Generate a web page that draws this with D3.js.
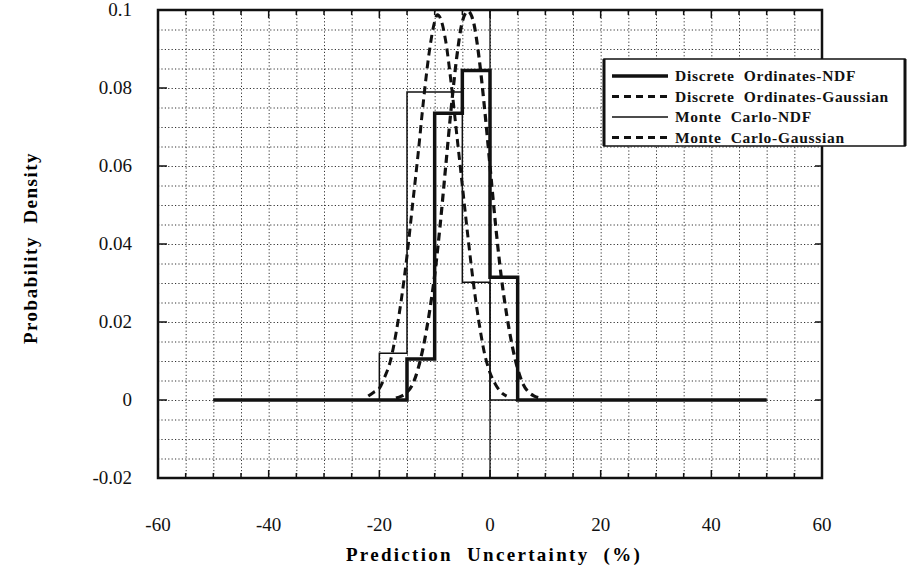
<!DOCTYPE html>
<html>
<head>
<meta charset="utf-8">
<script src="https://cdn.jsdelivr.net/npm/d3@7"></script>
<style>
    body { margin: 0; background: #ffffff; }
    svg { display: block; }
    .grid line { stroke: #333333; stroke-width: 1; stroke-dasharray: 1.2, 2.2; }
    .grid path { display: none; }
</style>
</head>
<body>
<div id="chart"></div>
<script>
// tick labels
const xTicks = [-60, -40, -20, 0, 20, 40, 60]
const yTicks = [-0.02, 0, 0.02, 0.04, 0.06, 0.08, 0.1]
const yTickLabels = ["-0.02", "0", "0.02", "0.04", "0.06", "0.08", "0.1"]

// Discrete Ordinates - NDF histogram (bin edges, bin heights)
const doNdfEdges = [-50, -15, -10, -5, 0, 5, 50]
const doNdfValues = [0, 0.0105, 0.0735, 0.0845, 0.0315, 0]

// Monte Carlo - NDF histogram
const mcNdfEdges = [-50, -20, -15, -10, -5, 0, 50]
const mcNdfValues = [0, 0.012, 0.079, 0.079, 0.0302, 0]

// Discrete Ordinates - Gaussian curve
const doGaussX = [-17, -16, -15, -14, -13, -12, -11, -10, -9, -8, -7, -6, -5, -4, -3, -2, -1, 0, 1, 2, 3, 4, 5, 6, 7, 8, 9]
const doGaussY = [0.0005, 0.001, 0.002, 0.004, 0.008, 0.014, 0.022, 0.032, 0.045, 0.060, 0.075, 0.088, 0.097, 0.0997, 0.097, 0.088, 0.075, 0.060, 0.045, 0.032, 0.022, 0.014, 0.008, 0.004, 0.002, 0.001, 0.0005]

// Monte Carlo - Gaussian curve
const mcGaussX = [-22, -21, -20, -19, -18, -17, -16, -15, -14, -13, -12, -11, -10, -9.5, -9, -8, -7, -6, -5, -4, -3, -2, -1, 0, 1, 2, 3]
const mcGaussY = [0.001, 0.002, 0.003, 0.006, 0.010, 0.017, 0.026, 0.037, 0.050, 0.063, 0.077, 0.089, 0.097, 0.0988, 0.098, 0.092, 0.081, 0.068, 0.055, 0.042, 0.030, 0.020, 0.012, 0.007, 0.004, 0.002, 0.001]

const legendLabels = ["Discrete  Ordinates-NDF", "Discrete  Ordinates-Gaussian", "Monte  Carlo-NDF", "Monte  Carlo-Gaussian"]

const width = 908
const height = 572
const margin = { left: 158, top: 10, right: 86, bottom: 94 }
const innerWidth = width - margin.left - margin.right
const innerHeight = height - margin.top - margin.bottom

const svg = d3.select("#chart").append("svg")
    .attr("width", width)
    .attr("height", height)

const g = svg.append("g")
    .attr("transform", `translate(${margin.left},${margin.top})`)

const xScale = d3.scaleLinear().domain([-60, 60]).range([0, innerWidth])
const yScale = d3.scaleLinear().domain([-0.02, 0.1]).range([innerHeight, 0])

// dotted grid
g.append("g")
    .attr("class", "grid")
    .attr("transform", `translate(0,${innerHeight})`)
    .call(d3.axisBottom(xScale).tickValues(d3.range(-55, 60, 5)).tickSize(-innerHeight).tickFormat(() => ""))
    .selectAll("text").remove()
g.append("g")
    .attr("class", "grid")
    .call(d3.axisLeft(yScale).tickValues(d3.range(-0.015, 0.1, 0.005)).tickSize(-innerWidth).tickFormat(() => ""))
    .selectAll("text").remove()

// solid line at x = 0
g.append("line")
    .attr("x1", xScale(0)).attr("x2", xScale(0))
    .attr("y1", 0).attr("y2", innerHeight)
    .attr("stroke", "#111111")
    .attr("stroke-width", 1.3)

// inner tick marks
const tickGroup = g.append("g").attr("stroke", "#111111").attr("stroke-width", 1.5)
for (const v of d3.range(-55, 60, 5)) {
    const len = v % 20 === 0 ? 8 : 5
    tickGroup.append("line").attr("x1", xScale(v)).attr("x2", xScale(v)).attr("y1", innerHeight).attr("y2", innerHeight - len)
    tickGroup.append("line").attr("x1", xScale(v)).attr("x2", xScale(v)).attr("y1", 0).attr("y2", len)
}
for (const v of yTicks) {
    tickGroup.append("line").attr("x1", 0).attr("x2", 9).attr("y1", yScale(v)).attr("y2", yScale(v))
    tickGroup.append("line").attr("x1", innerWidth).attr("x2", innerWidth - 7).attr("y1", yScale(v)).attr("y2", yScale(v))
}

// frame
g.append("rect")
    .attr("width", innerWidth)
    .attr("height", innerHeight)
    .attr("fill", "none")
    .attr("stroke", "#111111")
    .attr("stroke-width", 2.5)

// tick labels
const labelGroup = svg.append("g")
    .attr("font-family", "Liberation Serif")
    .attr("font-size", 19)
    .attr("fill", "#111111")

labelGroup.selectAll("text.x-label")
    .data(xTicks)
    .enter()
    .append("text")
    .attr("class", "x-label")
    .attr("x", d => margin.left + xScale(d))
    .attr("y", margin.top + innerHeight + 53)
    .attr("text-anchor", "middle")
    .attr("font-size", 19)
    .text(d => String(d))

labelGroup.selectAll("text.y-label")
    .data(yTicks)
    .enter()
    .append("text")
    .attr("class", "y-label")
    .attr("x", margin.left - 26)
    .attr("y", d => margin.top + yScale(d) + 6)
    .attr("text-anchor", "end")
    .attr("font-size", 19)
    .text((d, i) => yTickLabels[i])

// axis titles
svg.append("text")
    .attr("x", 494)
    .attr("y", 561)
    .attr("text-anchor", "middle")
    .attr("font-family", "Liberation Serif")
    .attr("font-weight", "bold")
    .attr("font-size", 19)
    .attr("letter-spacing", 2.3)
    .attr("xml:space", "preserve")
    .text("Prediction  Uncertainty  (%)")

svg.append("text")
    .attr("transform", "translate(37,248) rotate(-90)")
    .attr("text-anchor", "middle")
    .attr("font-family", "Liberation Serif")
    .attr("font-weight", "bold")
    .attr("font-size", 19)
    .attr("letter-spacing", 1.5)
    .attr("xml:space", "preserve")
    .text("Probability  Density")

// data lines
const histPoints = (edges, values) =>
    edges.map((e, i) => [e, values[Math.min(i, values.length - 1)]])
const gaussPoints = (xs, ys) => xs.map((x, i) => [x, ys[i]])

const stepLine = d3.line()
    .x(d => xScale(d[0]))
    .y(d => yScale(d[1]))
    .curve(d3.curveStepAfter)

const smoothLine = d3.line()
    .x(d => xScale(d[0]))
    .y(d => yScale(d[1]))
    .curve(d3.curveMonotoneX)

const series = [
    { label: legendLabels[0], path: stepLine(histPoints(doNdfEdges, doNdfValues)), width: 3.5, dash: null },
    { label: legendLabels[1], path: smoothLine(gaussPoints(doGaussX, doGaussY)), width: 3.2, dash: "8,5" },
    { label: legendLabels[2], path: stepLine(histPoints(mcNdfEdges, mcNdfValues)), width: 1.5, dash: null },
    { label: legendLabels[3], path: smoothLine(gaussPoints(mcGaussX, mcGaussY)), width: 3, dash: "8,5" },
]

const dataGroup = g.append("g")
for (const s of [series[2], series[3], series[1], series[0]]) {
    dataGroup.append("path")
        .attr("d", s.path)
        .attr("fill", "none")
        .attr("stroke", "#111111")
        .attr("stroke-width", s.width)
        .attr("stroke-dasharray", s.dash)
        .attr("stroke-linejoin", "miter")
}

// legend
const legend = svg.append("g").attr("transform", "translate(604,59)")
legend.append("rect")
    .attr("width", 301)
    .attr("height", 87)
    .attr("fill", "#ffffff")
    .attr("stroke", "#111111")
    .attr("stroke-width", 1.5)
legend.append("line")
    .attr("x1", 0).attr("x2", 0).attr("y1", 0).attr("y2", 87)
    .attr("stroke", "#111111").attr("stroke-width", 3)
legend.append("line")
    .attr("x1", 301).attr("x2", 301).attr("y1", 0).attr("y2", 87)
    .attr("stroke", "#111111").attr("stroke-width", 3)

series.forEach((s, i) => {
    const y = 17 + i * 20.5
    legend.append("line")
        .attr("x1", 8).attr("x2", 64)
        .attr("y1", y).attr("y2", y)
        .attr("stroke", "#111111")
        .attr("stroke-width", s.width)
        .attr("stroke-dasharray", s.dash ? "7,5" : null)
    legend.append("text")
        .attr("x", 71)
        .attr("y", y + 5)
        .attr("font-family", "Liberation Serif")
        .attr("font-weight", "bold")
        .attr("font-size", 15.5)
        .attr("letter-spacing", 0.7)
        .attr("xml:space", "preserve")
        .attr("fill", "#111111")
        .text(s.label)
})
</script>
</body>
</html>
